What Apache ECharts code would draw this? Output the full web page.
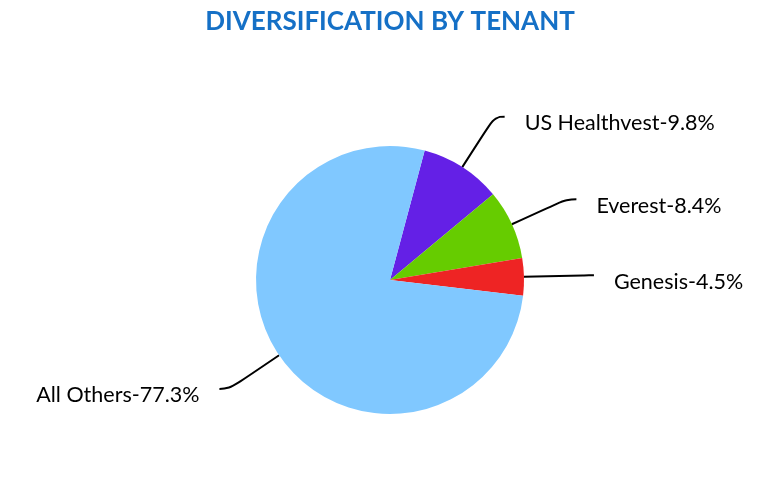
<!DOCTYPE html>
<html><head><meta charset="utf-8">
<script src="https://cdn.jsdelivr.net/npm/echarts@6/dist/echarts.min.js"></script>
<style>html,body{margin:0;padding:0;background:#fff}#c{width:780px;height:492px}</style>
</head><body><div id="c"></div>
<script>
const categories = ['US Healthvest', 'Everest', 'Genesis', 'All Others'];
const values = [9.8, 8.4, 4.5, 77.3];
const colors = ['#6420E6', '#66CC00', '#EE2424', '#80C8FF'];
const titleText = 'DIVERSIFICATION BY TENANT';

const chart = echarts.init(document.getElementById('c'), null, {renderer: 'canvas'});
chart.setOption({
  animation: false,
  title: {
    text: titleText, left: 'center', top: 4,
    textStyle: {fontFamily: 'Lato', fontWeight: 'bold', fontSize: 26, color: '#1570C6'}
  },
  series: [{
    type: 'pie',
    center: [390, 280],
    radius: 134,
    startAngle: 75,
    clockwise: true,
    data: categories.map((c, i) => ({name: c, value: values[i], itemStyle: {color: colors[i]}})),
    label: {
      formatter: p => '{s|}\n{t|' + p.name + '-' + p.value.toFixed(1) + '%}',
      distanceToLabelLine: 20,
      rich: {
        s: {fontSize: 10, lineHeight: 13},
        t: {fontFamily: 'Lato', fontSize: 21.5, color: '#000', lineHeight: 22}
      }
    },
    labelLine: {
      length: 60, length2: 10, smooth: 0.5,
      lineStyle: {color: '#000', width: 2}
    },
    emphasis: {disabled: true}
  }]
});
</script></body></html>
